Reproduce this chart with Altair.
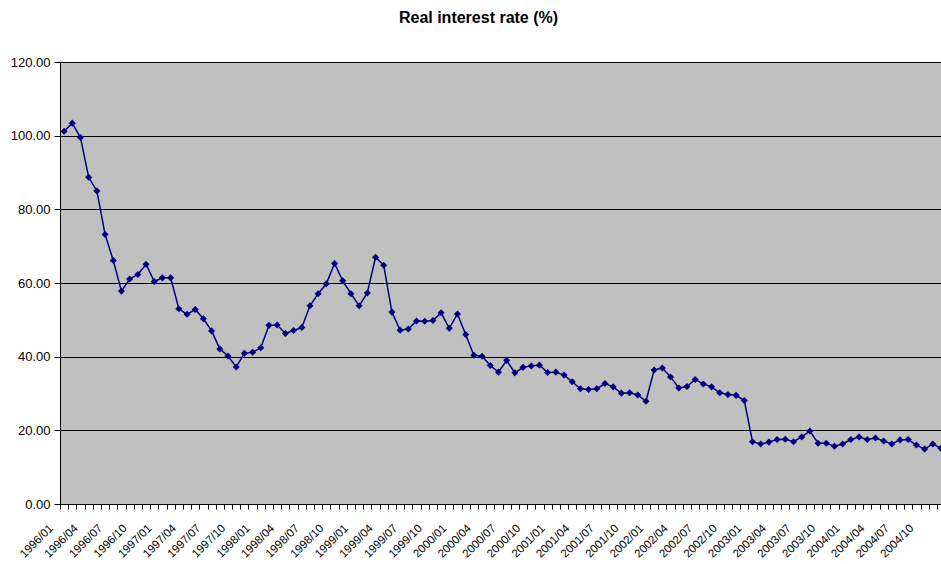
import altair as alt
import pandas as pd

RATES = [
    101.2, 103.4, 99.5, 88.7, 85.0, 73.2, 66.1, 57.8, 61.1, 62.3, 65.1, 60.4,
    61.4, 61.4, 53.0, 51.5, 52.8, 50.3, 47.0, 42.1, 40.2, 37.2, 40.9, 41.2,
    42.4, 48.5, 48.6, 46.3, 47.1, 47.9, 53.8, 57.1, 59.8, 65.3, 60.6, 57.1,
    53.8, 57.3, 67.0, 64.8, 52.1, 47.2, 47.5, 49.7, 49.6, 49.8, 51.9, 47.7,
    51.6, 46.0, 40.4, 40.1, 37.6, 35.8, 39.0, 35.6, 37.1, 37.5, 37.7, 35.7,
    35.8, 35.0, 33.2, 31.3, 31.1, 31.3, 32.7, 31.8, 30.1, 30.2, 29.6, 27.9,
    36.4, 36.9, 34.5, 31.5, 31.9, 33.8, 32.6, 31.8, 30.2, 29.7, 29.5, 28.1,
    16.9, 16.3, 16.8, 17.5, 17.6, 16.9, 18.2, 19.8, 16.5, 16.5, 15.7, 16.3,
    17.5, 18.2, 17.5, 17.9, 17.1, 16.3, 17.4, 17.5, 16.0, 14.9, 16.3, 15.1,
]

TICK_LABELS = [
    "1996/01", "1996/04", "1996/07", "1996/10",
    "1997/01", "1997/04", "1997/07", "1997/10",
    "1998/01", "1998/04", "1998/07", "1998/10",
    "1999/01", "1999/04", "1999/07", "1999/10",
    "2000/01", "2000/04", "2000/07", "2000/10",
    "2001/01", "2001/04", "2001/07", "2001/10",
    "2002/01", "2002/04", "2002/07", "2002/10",
    "2003/01", "2003/04", "2003/07", "2003/10",
    "2004/01", "2004/04", "2004/07", "2004/10",
]

Y_TICKS = [0, 20, 40, 60, 80, 100, 120]

FONT = "Liberation Sans"

df = pd.DataFrame({"idx": list(range(len(RATES))), "rate": RATES})

label_array = "[" + ",".join(f"'{s}'" for s in TICK_LABELS) + "]"
label_expr = (
    f"(round(datum.value + 0.5) % 3 == 0) ? "
    f"{label_array}[round((datum.value + 0.5) / 3)] : ''"
)
tick_values = [k - 0.5 for k in range(len(RATES))]

x_enc = alt.X(
    "idx:Q",
    scale=alt.Scale(domain=[-0.5, len(RATES) - 1], nice=False, zero=False),
    axis=alt.Axis(
        values=tick_values,
        labelExpr=label_expr,
        labelAngle=-45,
        labelAlign="right",
        labelBaseline="top",
        labelOffset=-13,
        labelPadding=13,
        tickSize=5,
        labelOverlap=False,
        labelFlush=False,
        grid=False,
        title=None,
        domainColor="black",
        tickColor="black",
        labelColor="black",
        labelFontSize=11.5,
        labelFont=FONT,
    ),
)

y_enc = alt.Y(
    "rate:Q",
    scale=alt.Scale(domain=[0, 120], nice=False, zero=True),
    axis=alt.Axis(
        values=Y_TICKS,
        format=".2f",
        tickSize=6,
        labelPadding=4,
        grid=True,
        gridColor="black",
        gridOpacity=1,
        gridWidth=1,
        domainColor="black",
        tickColor="black",
        labelColor="black",
        labelFontSize=13,
        labelFont=FONT,
        title=None,
    ),
)

base = alt.Chart(df).encode(x=x_enc, y=y_enc)

line = base.mark_line(color="#000080", strokeWidth=1.5, clip=True)
points = base.mark_point(
    shape="diamond", filled=True, size=50, color="#000080", opacity=1, clip=True
)

chart = (
    alt.layer(line, points)
    .properties(
        width=881,
        height=442,
        autosize="none",
        padding={"left": 60, "top": 62, "right": 0, "bottom": 60},
        background="white",
        title=alt.TitleParams(
            "Real interest rate (%)",
            fontSize=16,
            fontWeight="bold",
            font=FONT,
            color="black",
            anchor="middle",
            dx=-22,
            offset=30,
        ),
    )
    .configure_view(fill="#C0C0C0", strokeWidth=0)
)

chart.save("out.html", embed_options={"renderer": "svg", "actions": False})
